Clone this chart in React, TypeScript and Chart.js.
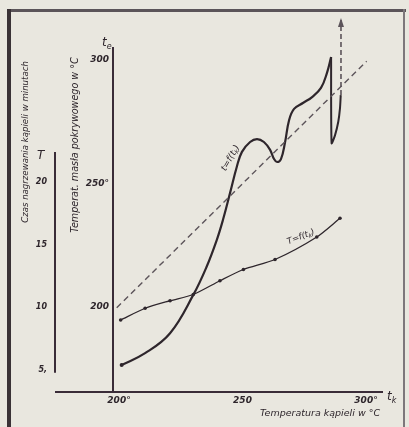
import React, { useEffect, useRef } from 'react';
import { Chart, registerables } from 'chart.js';

Chart.register(...registerables);

// ---- data ----
// t = f(t_k): temperature of the covering fat vs bath temperature
const tCurveTk = [203.5, 213.0, 223.1, 232.5, 237.9, 242.0, 244.5, 247.4, 250.1, 252.2, 255.5, 258.3, 261.1, 263.6, 265.2, 266.4, 268.0, 269.6, 271.3, 273.3, 276.9, 280.6, 284.2, 286.6, 288.3];
const tCurveT = [176.5, 181.3, 189.4, 204.9, 216.3, 227.1, 235.2, 246.2, 256.7, 262.8, 266.8, 268.0, 266.8, 263.6, 259.9, 258.7, 259.9, 266.4, 275.7, 280.2, 282.6, 285.0, 288.7, 294.7, 301.2];
// sudden drop and renewed rise at the end of t = f(t_k)
const dropTk = [288.3, 288.5, 289.9, 291.2, 291.9, 292.2];
const dropT = [301.2, 266.3, 269.6, 275.0, 280.5, 285.8];
// dashed arrow continuing upwards
const arrowTk = [292.3, 292.3];
const arrowT = [285.8, 316.2];
// dashed reference line t = t_k
const diagTk = [201.5, 302.7];
const diagT = [199.7, 299.5];
// T = f(t_k): heating time in minutes vs bath temperature
const timeTk = [203.1, 213.0, 223.1, 232.5, 243.3, 252.8, 265.6, 282.5, 291.9];
const timeT = [8.96, 9.9, 10.5, 11.0, 12.1, 13.0, 13.8, 15.6, 17.1];

// axis ticks
const xTicks = [200, 250, 300];
const xTickLabels = ['200°', '250', '300°'];
const yTicks = [200, 250, 300];
const yTickLabels = ['200', '250°', '300'];
const timeTicks = [5, 10, 15, 20];
const timeTickLabels = ['5,', '10', '15', '20'];

// axis extents (in data units)
const mainAxisTop = 305.3;
const timeAxisRange = [4.75, 22.4];

const INK = '#2e262c';
const AXIS_INK = '#3a2c38';
const INK_SOFT = '#5c545a';

const zip = (xs: number[], ys: number[]) => xs.map((x, i) => ({ x, y: ys[i] }));

type Part = [string, boolean];
function drawRich(ctx: CanvasRenderingContext2D, parts: Part[], size: number, weight: string, align: 'left' | 'center' | 'right') {
  const mainFont = `italic ${weight} ${size}px "DejaVu Sans"`;
  const subFont = `italic ${weight} ${Math.round(size * 0.7)}px "DejaVu Sans"`;
  let total = 0;
  const widths = parts.map(([t, sub]) => {
    ctx.font = sub ? subFont : mainFont;
    const w = ctx.measureText(t).width;
    total += w;
    return w;
  });
  let x = align === 'left' ? 0 : align === 'center' ? -total / 2 : -total;
  ctx.textAlign = 'left';
  parts.forEach(([t, sub], i) => {
    ctx.font = sub ? subFont : mainFont;
    ctx.fillText(t, x, sub ? size * 0.3 : 0);
    x += widths[i];
  });
}

const handAxes = {
  id: 'handAxes',
  afterDatasetsDraw(chart: any) {
    const { ctx, chartArea } = chart;
    const x = chart.scales.x;
    const y = chart.scales.y;
    const yT = chart.scales.yT;
    const axisX = x.getPixelForValue(200);
    const tAxisX = chartArea.left - 58;
    const base = chartArea.bottom;
    ctx.save();
    ctx.strokeStyle = AXIS_INK;
    ctx.fillStyle = INK;
    ctx.lineWidth = 2;
    ctx.setLineDash([]);
    // horizontal axis
    ctx.beginPath();
    ctx.moveTo(tAxisX, base);
    ctx.lineTo(chartArea.right, base);
    ctx.stroke();
    // main vertical axis
    ctx.beginPath();
    ctx.moveTo(axisX, base);
    ctx.lineTo(axisX, y.getPixelForValue(mainAxisTop));
    ctx.stroke();
    // time axis
    ctx.beginPath();
    ctx.moveTo(tAxisX, yT.getPixelForValue(timeAxisRange[0]));
    ctx.lineTo(tAxisX, yT.getPixelForValue(timeAxisRange[1]));
    ctx.stroke();

    ctx.textBaseline = 'middle';
    // x tick labels
    xTicks.forEach((v, i) => {
      ctx.save();
      ctx.translate(x.getPixelForValue(v) + 6, base + 9);
      drawRich(ctx, [[xTickLabels[i], false]], 9, 'bold', 'center');
      ctx.restore();
    });
    // y tick labels
    yTicks.forEach((v, i) => {
      ctx.save();
      ctx.translate(axisX - 4, y.getPixelForValue(v));
      drawRich(ctx, [[yTickLabels[i], false]], 9, 'bold', 'right');
      ctx.restore();
    });
    // time tick labels
    timeTicks.forEach((v, i) => {
      ctx.save();
      ctx.translate(tAxisX - 8, yT.getPixelForValue(v));
      drawRich(ctx, [[timeTickLabels[i], false]], 8, 'bold', 'right');
      ctx.restore();
    });
    // axis symbols
    ctx.save();
    ctx.translate(axisX - 11, y.getPixelForValue(mainAxisTop) - 4);
    drawRich(ctx, [['t', false], ['e', true]], 12, 'normal', 'left');
    ctx.restore();
    ctx.save();
    ctx.translate(chartArea.right + 4, base + 5);
    drawRich(ctx, [['t', false], ['k', true]], 12, 'normal', 'left');
    ctx.restore();
    ctx.save();
    ctx.translate(tAxisX - 18, yT.getPixelForValue(timeAxisRange[1]) + 4);
    drawRich(ctx, [['T', false]], 12, 'normal', 'left');
    ctx.restore();

    // axis titles
    ctx.save();
    ctx.translate(320, base + 22);
    drawRich(ctx, [['Temperatura kąpieli w °C', false]], 9.5, 'normal', 'center');
    ctx.restore();
    ctx.save();
    ctx.translate(75, 145);
    ctx.rotate(-Math.PI / 2);
    drawRich(ctx, [['Temperat. masła pokrywowego w °C', false]], 9.6, 'normal', 'center');
    ctx.restore();
    ctx.save();
    ctx.translate(26, 142);
    ctx.rotate(-Math.PI / 2);
    drawRich(ctx, [['Czas nagrzewania kąpieli w minutach', false]], 8.6, 'normal', 'center');
    ctx.restore();

    // curve labels
    ctx.save();
    ctx.translate(x.getPixelForValue(247.6), y.getPixelForValue(260.3));
    ctx.rotate((-60 * Math.PI) / 180);
    drawRich(ctx, [['t=f(t', false], ['k', true], [')', false]], 9, 'normal', 'center');
    ctx.restore();
    ctx.save();
    ctx.translate(x.getPixelForValue(276.1), yT.getPixelForValue(15.6));
    ctx.rotate((-21 * Math.PI) / 180);
    drawRich(ctx, [['T=f(t', false], ['k', true], [')', false]], 8.5, 'normal', 'center');
    ctx.restore();

    // arrowhead on the dashed vertical
    const ax = x.getPixelForValue(arrowTk[1]);
    const ay = y.getPixelForValue(arrowT[1]);
    ctx.fillStyle = INK_SOFT;
    ctx.beginPath();
    ctx.moveTo(ax, ay - 2);
    ctx.lineTo(ax - 3, ay + 7);
    ctx.lineTo(ax + 3, ay + 7);
    ctx.closePath();
    ctx.fill();
    ctx.restore();
  },
};

export default function App() {
  const ref = useRef<HTMLCanvasElement>(null);
  useEffect(() => {
    const chart = new Chart(ref.current as HTMLCanvasElement, {
      type: 'scatter',
      data: {
        datasets: [
          {
            data: zip(diagTk, diagT),
            showLine: true,
            borderColor: INK_SOFT,
            borderWidth: 1.4,
            borderDash: [6, 4],
            pointRadius: 0,
            tension: 0,
          },
          {
            data: zip(tCurveTk, tCurveT),
            showLine: true,
            borderColor: INK,
            borderWidth: 2.2,
            tension: 0.4,
            pointRadius: (c: any) => (c.dataIndex === 0 ? 2 : 0),
            pointBackgroundColor: INK,
            pointBorderWidth: 0,
          },
          {
            data: zip(dropTk, dropT),
            showLine: true,
            borderColor: INK,
            borderWidth: 2,
            tension: 0.2,
            pointRadius: 0,
          },
          {
            data: zip(arrowTk, arrowT),
            showLine: true,
            borderColor: INK_SOFT,
            borderWidth: 1.6,
            borderDash: [5, 3],
            pointRadius: 0,
          },
          {
            data: zip(timeTk, timeT),
            yAxisID: 'yT',
            showLine: true,
            borderColor: INK,
            borderWidth: 1.3,
            tension: 0.25,
            pointRadius: 1.8,
            pointBackgroundColor: INK,
            pointBorderWidth: 0,
          },
        ],
      } as any,
      options: {
        responsive: false,
        animation: false,
        events: [],
        layout: { padding: { left: 113, right: 26, top: 15, bottom: 35 } },
        plugins: { legend: { display: false }, tooltip: { enabled: false } },
        scales: {
          x: { type: 'linear', display: false, min: 200, max: 309.31 },
          y: { type: 'linear', display: false, min: 165.59, max: 318.22 },
          yT: { type: 'linear', display: false, min: 3.2, max: 33.36 },
        },
      } as any,
      plugins: [handAxes],
    });
    return () => chart.destroy();
  }, []);

  return (
    <div style={{ position: 'fixed', left: 0, top: 0, width: 409, height: 427, background: '#e9e7df', overflow: 'hidden' }}>
      <canvas ref={ref} width={409} height={427} style={{ display: 'block' }} />
      <div style={{ position: 'absolute', left: 7, top: 9, width: 399, height: 3, background: '#5b5459' }} />
      <div style={{ position: 'absolute', left: 7, top: 9, width: 4, height: 418, background: '#3a3236' }} />
      <div style={{ position: 'absolute', left: 403, top: 9, width: 2, height: 418, background: '#7d777b' }} />
    </div>
  );
}
